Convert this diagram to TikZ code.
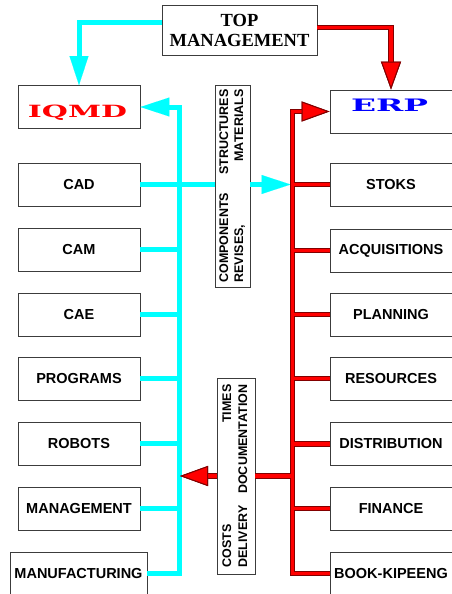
\documentclass[tikz,border=0pt]{standalone}
\usepackage{fontspec}
\usepackage{graphicx}
\setmainfont{Liberation Sans}
\newfontfamily\titlefont{Liberation Serif}
\newfontfamily\logofont{DejaVu Serif}
\usetikzlibrary{arrows.meta,calc}
\definecolor{aqua}{RGB}{0,255,255}
\definecolor{rim}{RGB}{130,0,0}
\definecolor{edge}{RGB}{60,60,60}
\tikzset{
  blk/.style={draw=edge, line width=0.9pt, fill=white, inner sep=0pt,
    minimum height=43, font=\fontsize{14.5}{16}\selectfont\bfseries},
  lblk/.style={blk, minimum width=122},
  tagbox/.style={draw=edge, line width=0.9pt, fill=white, inner sep=0pt,
    font=\fontsize{12.5}{15}\selectfont\bfseries},
  aq/.style={draw=aqua, line width=5pt},
  aqtip/.style={-{Triangle[length=29pt,width=19pt,line width=0.01pt]}},
  rr/.style={draw=rim, line width=5.6pt},
  rc/.style={draw=red, line width=3.4pt},
  rtip/.style={-{Triangle[length=28pt,width=20pt,line width=1pt,color=rim,fill=red]}},
  wide/.style={font=\logofont\bfseries\fontsize{19}{20}\selectfont, inner sep=0pt, anchor=base}
}
\begin{document}
\begin{tikzpicture}[x=1pt,y=-1pt]
\useasboundingbox (0,0) rectangle (451,594);
\fill[white] (0,0) rectangle (451,594);

% bus positions
\coordinate (cbus) at (179,0);
\coordinate (rbus) at (293,0);

% top box
\node[draw=edge, line width=0.9pt, fill=white, minimum width=155, minimum height=50,
  inner sep=0pt, align=center, font=\titlefont\bfseries\fontsize{18.5}{20}\selectfont]
  (top) at (239.5,30) {TOP\\MANAGEMENT};

% left column
\node[lblk] (iqmd) at (79,107) {};
\node[wide, text=red] (iqmdtxt) at (77.5,117.7) {\resizebox{99pt}{12.5pt}{IQMD}};
\node[lblk] (cad)  at (79,184.5) {CAD};
\node[lblk] (cam)  at (79,249.5) {CAM};
\node[lblk] (cae)  at (79,314.5) {CAE};
\node[lblk] (prog) at (79,378.5) {PROGRAMS};
\node[lblk] (robo) at (79,443.5) {ROBOTS};
\node[lblk] (mgmt) at (79,508.5) {MANAGEMENT};
\node[blk, minimum width=137] (manu) at (78.5,573.5) {MANUFACTURING};

% right column
\node[lblk] (erp) at (391,111.5) {};
\node[wide, text=blue] (erptxt) at (389.5,111.7) {\resizebox{77pt}{12.5pt}{ERP}};
\node[lblk] (stoks) at (391,184.5) {STOKS};
\node[lblk] (acq)   at (391,250.5) {ACQUISITIONS};
\node[lblk] (plan)  at (391,314.5) {PLANNING};
\node[lblk] (res)   at (391,378.5) {RESOURCES};
\node[lblk] (dist)  at (391,444) {DISTRIBUTION};
\node[lblk] (fin)   at (391,508.5) {FINANCE};
\node[lblk] (book)  at (391,573.5) {BOOK-KIPEENG};

% flow tags
\node[tagbox, minimum width=35, minimum height=202] (lab1) at (232.5,186)
  {\rotatebox{90}{\begin{tabular}{@{}l@{}}
    \makebox[193pt]{COMPONENTS\hfill STRUCTURES}\\
    \makebox[193pt]{REVISES,\hfill MATERIALS}
  \end{tabular}}};
\node[tagbox, minimum width=38, minimum height=196] (lab2) at (236,476)
  {\rotatebox{90}{\begin{tabular}{@{}l@{}}
    \makebox[183pt]{COSTS\hfill TIMES}\\[1pt]
    \makebox[183pt]{DELIVERY\hfill DOCUMENTATION}
  \end{tabular}}};

% IQMD side (cyan)
\draw[aq,aqtip] ($(top.west)+(0,-7.3)$) -| (iqmd.north);
\draw[aq,aqtip] (manu.east) -| ($(iqmd.east)+(39,0)$) -- (iqmd.east);
\foreach \n in {cad,cam,cae,prog,robo,mgmt}
  \draw[aq] (\n.east) -- (\n.east -| cbus);
\draw[aq] (cad.east) -- (cad.east -| lab1.west);
\draw[aq,aqtip,shorten >=2.5pt] (cad.east -| lab1.east) -- (cad.east -| rbus);

% ERP side (red with dark rim)
\foreach \s in {rr,rc}{
  \draw[\s,rtip] ($(top.east)+(0,-2.5)$) -| (erp.north);
  \draw[\s,rtip] (book.west) -| ($(erp.west)+(-37,0)$) -- (erp.west);
  \foreach \n in {stoks,acq,plan,res,dist,fin}
    \draw[\s] (\n.west) -- (\n.west -| rbus);
  \draw[\s] (lab2.east -| rbus) -- (lab2.east);
  \draw[\s,rtip,shorten >=1pt] (lab2.west) -- (lab2.west -| cbus);
}
\end{tikzpicture}
\end{document}
